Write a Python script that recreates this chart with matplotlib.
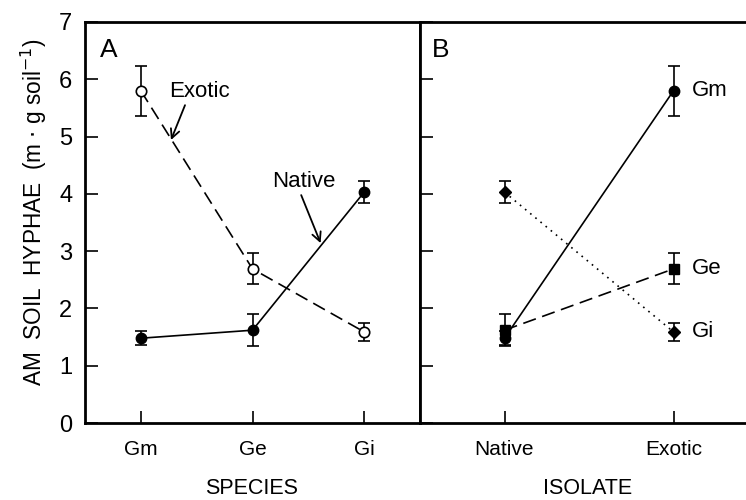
import numpy as np
import matplotlib
matplotlib.use('Agg')
import matplotlib.pyplot as plt

plt.rcParams['font.family'] = ['Liberation Sans', 'DejaVu Sans']

species = ['Gm', 'Ge', 'Gi']
isolates = ['Native', 'Exotic']

# hyphal length (m per g soil) and error bars, per species
native_mean = [1.48, 1.62, 4.03]
native_err = [0.12, 0.28, 0.19]
exotic_mean = [5.80, 2.69, 1.59]
exotic_err = [0.44, 0.27, 0.16]

fig = plt.figure(figsize=(7.46, 5.0), dpi=100)
axA = fig.add_axes([85 / 746, 77 / 500, 335 / 746, 401 / 500])
axB = fig.add_axes([420 / 746, 77 / 500, 338 / 746, 401 / 500])

fs_tick = 15
fs_note = 16
lw = 1.2
cap = 4.5
ms = 7.5

# ---- panel A
xa = np.arange(1, 4)
axA.errorbar(xa, exotic_mean, yerr=exotic_err, color='black', lw=lw,
             dashes=(8, 4), marker='o', ms=ms, mfc='white', mec='black', mew=1.2,
             capsize=cap, elinewidth=lw, capthick=lw)
axA.errorbar(xa, native_mean, yerr=native_err, color='black', lw=lw,
             ls='-', marker='o', ms=ms, mfc='black', mec='black',
             capsize=cap, elinewidth=lw, capthick=lw)

axA.annotate('Exotic', xy=(1.27, 4.94), xytext=(1.25, 5.78), fontsize=fs_note,
             va='center', ha='left',
             arrowprops=dict(arrowstyle='->', color='black', lw=1.3,
                             shrinkA=0, shrinkB=0, mutation_scale=16,
                             relpos=(0.3, 0.1)))
axA.annotate('Native', xy=(2.61, 3.14), xytext=(2.18, 4.21), fontsize=fs_note,
             va='center', ha='left',
             arrowprops=dict(arrowstyle='->', color='black', lw=1.3,
                             shrinkA=0, shrinkB=0, mutation_scale=16,
                             relpos=(0.42, 0.1)))
axA.text(0.045, 0.96, 'A', transform=axA.transAxes, fontsize=19,
         ha='left', va='top')

axA.set_xlim(0.5, 3.5)
axA.set_ylim(0, 7)
axA.set_xticks(xa)
axA.set_xticklabels(species)
axA.set_yticks(range(0, 8))

# ---- panel B
xb = np.arange(1, 3)
styles = [dict(ls='-', marker='o'),
          dict(dashes=(8, 4), marker='s'),
          dict(ls=(0, (1, 3)), marker='D')]
for i, sp in enumerate(species):
    m = [native_mean[i], exotic_mean[i]]
    e = [native_err[i], exotic_err[i]]
    mk = styles[i]
    axB.errorbar(xb, m, yerr=e, color='black', lw=lw, mfc='black', mec='black',
                 ms=ms if mk['marker'] != 'D' else 6.5,
                 capsize=cap, elinewidth=lw, capthick=lw, **mk)
    axB.text(2.11, exotic_mean[i], sp, fontsize=fs_note, ha='left', va='center')

axB.text(0.035, 0.96, 'B', transform=axB.transAxes, fontsize=19,
         ha='left', va='top')
axB.set_xlim(0.5, 2.5)
axB.set_ylim(0, 7)
axB.set_xticks(xb)
axB.set_xticklabels(isolates)
axB.set_yticks(range(0, 8))
axB.set_yticklabels([])
axB.spines['right'].set_visible(False)

for ax in (axA, axB):
    for s in ax.spines.values():
        s.set_linewidth(2)
    ax.tick_params(direction='in', length=9, width=1.2, labelsize=fs_tick)
    ax.tick_params(axis='x', pad=12)
    ax.tick_params(axis='y', pad=9)
axA.tick_params(axis='y', labelsize=17)

# axis titles
fig.text(252 / 746, 1 - 489 / 500, 'SPECIES', fontsize=15.5, ha='center', va='center')
fig.text(588 / 746, 1 - 489 / 500, 'ISOLATE', fontsize=15.5, ha='center', va='center')
fig.text(34 / 746, 1 - 212 / 500, r'AM  SOIL  HYPHAE  (m $\cdot$ g soil$^{-1}$)',
         fontsize=16.3, rotation=90, ha='center', va='center')

fig.savefig('out.png', dpi=100)
